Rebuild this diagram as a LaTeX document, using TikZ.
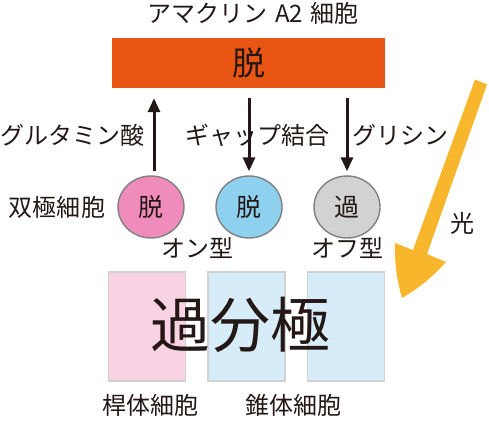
\documentclass[tikz,border=0pt]{standalone}
\usepackage{fontspec}
\setmainfont{Noto Sans CJK JP}
\usepackage{tikz}
\usetikzlibrary{arrows.meta,shapes.geometric}
\definecolor{ink}{HTML}{231815}
\definecolor{amacrine}{HTML}{E95513}
\definecolor{onpink}{HTML}{F08CBB}
\definecolor{onblue}{HTML}{8DD1EF}
\definecolor{offgray}{HTML}{D2D2D2}
\definecolor{rodfill}{HTML}{F9D2E4}
\definecolor{conefill}{HTML}{D6ECF8}
\definecolor{light}{HTML}{F8B62D}

\begin{document}
\begin{tikzpicture}[x=1pt,y=-1pt,
  lbl/.style={text=ink,inner sep=0pt,font=\fontsize{24}{26}\selectfont},
  cell/.style={ellipse,draw=black!50,line width=1.4pt,minimum width=66pt,minimum height=62pt,inner sep=0pt,text=ink,font=\fontsize{25}{27}\selectfont},
  receptor/.style={draw=black!18,line width=1.4pt,minimum width=77pt,minimum height=109pt,inner sep=0pt},
  sig/.style={draw=ink,line width=3pt,-{Triangle[width=12pt,length=14pt]}}]
  \useasboundingbox (0,0) rectangle (489,431);
  % amacrine cell
  \node[lbl] (amtitle) at (253,13) {アマクリン\hspace{0.3em}A2\hspace{0.3em}細胞};
  \node[fill=amacrine,minimum width=273pt,minimum height=50pt,inner sep=0pt,text=ink,font=\fontsize{33}{36}\selectfont] (bar) at (248.5,63) {脱};
  % bipolar cells
  \node[cell,fill=onpink] (rodbip) at (151,207) {脱};
  \node[cell,fill=onblue] (onbip) at (249,207) {脱};
  \node[cell,fill=offgray] (offbip) at (347,207) {過};
  \node[lbl] (biplbl) at (57,207) {双極細胞};
  \node[lbl] (onlbl) at (197,248) {オン型};
  \node[lbl] (offlbl) at (347,248) {オフ型};
  % photoreceptors
  \node[receptor,fill=rodfill] (rod) at (147,326.5) {};
  \node[receptor,fill=conefill] (cone1) at (246.5,326.5) {};
  \node[receptor,fill=conefill] (cone2) at (346,326.5) {};
  \node[text=ink,inner sep=0pt,font=\fontsize{60}{64}\selectfont] (hyper) at (240,325) {過分極};
  \node[lbl] (rodlbl) at (150,405) {桿体細胞};
  \node[lbl] (conelbl) at (293,405) {錐体細胞};
  % signals
  \draw[sig] ([xshift=3pt,yshift=4pt]rodbip.north) -- ([xshift=3pt,yshift=-10pt]rodbip.north |- bar.south);
  \draw[sig] ([yshift=-10pt]onbip.north |- bar.south) -- ([yshift=4pt]onbip.north);
  \draw[sig] ([yshift=-10pt]offbip.north |- bar.south) -- ([yshift=4pt]offbip.north);
  \node[lbl] (glulbl) at (72,135) {グルタミン酸};
  \node[lbl] (gaplbl) at (257,135) {ギャップ結合};
  \node[lbl] (glylbl) at (400,135) {グリシン};
  % light
  \fill[light] (475,79.5) -- (487,84.5) -- (427,254) -- (446,262)
    to[bend left=8] (402,298) to[bend left=8] (395,243) -- (413,250) -- cycle;
  \node[lbl] (lightlbl) at (462,223) {光};
\end{tikzpicture}
\end{document}
